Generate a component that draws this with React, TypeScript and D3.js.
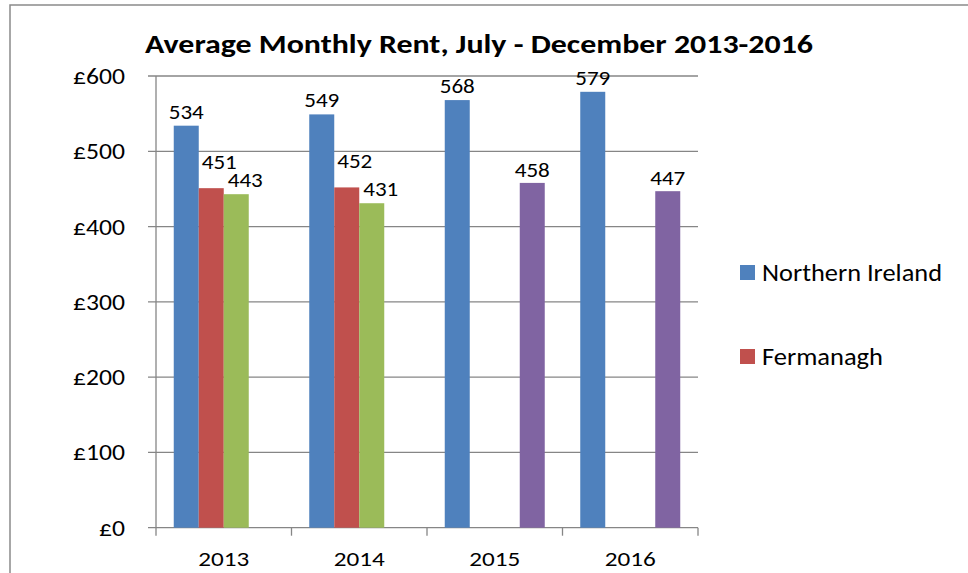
import React from "react";
import * as d3 from "d3";

const categories = ["2013", "2014", "2015", "2016"];
const seriesNames = ["Northern Ireland", "Fermanagh", "Series3", "Series4"];
const northernIreland: (number | null)[] = [534, 549, 568, 579];
const fermanagh: (number | null)[] = [451, 452, null, null];
const series3: (number | null)[] = [443, 431, null, null];
const series4: (number | null)[] = [null, null, 458, 447];
const yTicks = [0, 100, 200, 300, 400, 500, 600];
const legendNames = ["Northern Ireland", "Fermanagh"];

const colors = ["#4F81BD", "#C0504D", "#9BBB59", "#8064A2"];
// label placement styling per series (dx shift, gap above bar)
const labelStyle = [
  { dx: 0, gap: 7 },
  { dx: 8, gap: 19 },
  { dx: 9, gap: 7 },
  { dx: 0, gap: 6 },
];

const FONT = "Carlito, Calibri, Lato, 'Noto Sans', sans-serif";

export default function App() {
  const W = 968;
  const H = 573;
  const left = 156;
  const right = 698;
  const top = 76;
  const bottom = 527.7;
  const allSeries = [northernIreland, fermanagh, series3, series4];

  const x = d3.scaleBand<string>().domain(categories).range([left, right]).paddingInner(0).paddingOuter(0);
  const inner = d3
    .scaleBand<string>()
    .domain(seriesNames)
    .range([0, x.bandwidth()])
    .paddingInner(0)
    .paddingOuter(0.71);
  const y = d3.scaleLinear().domain([0, 600]).range([bottom, top]);

  const grid = "#868686";

  return (
    <svg
      width={W}
      height={H}
      style={{ position: "absolute", left: 0, top: 0, background: "#fff" }}
      fontFamily={FONT}
    >
      <rect x={10} y={5} width={980} height={600} fill="#fff" stroke="#8a8a8a" strokeWidth={1.5} />
      <text
        x={479}
        y={53}
        textAnchor="middle"
        fontWeight="bold"
        fontSize={27}
        fill="#000"
        textLength={668}
        lengthAdjust="spacingAndGlyphs"
      >
        Average Monthly Rent, July - December 2013-2016
      </text>
      {yTicks.map((t) => {
        const s = "£" + t;
        return (
          <g key={t}>
            <line x1={148} x2={right} y1={y(t)} y2={y(t)} stroke={grid} strokeWidth={1.3} />
            <text
              x={125}
              y={y(t) + 8}
              textAnchor="end"
              fontSize={21.5}
              fill="#000"
              textLength={s.length * 13}
              lengthAdjust="spacingAndGlyphs"
            >
              {s}
            </text>
          </g>
        );
      })}
      <line x1={left} x2={left} y1={top} y2={bottom + 8} stroke={grid} strokeWidth={1.3} />
      {categories.map((c) => (
        <line key={"t" + c} x1={x(c)! + x.bandwidth()} x2={x(c)! + x.bandwidth()} y1={bottom} y2={bottom + 8} stroke={grid} strokeWidth={1.3} />
      ))}
      {allSeries.map((vals, si) =>
        vals.map((v, ci) => {
          if (v === null) return null;
          const bx = x(categories[ci])! + inner(seriesNames[si])!;
          const bw = inner.bandwidth();
          const s = String(v);
          return (
            <g key={si + "-" + ci}>
              <rect x={bx} y={y(v)} width={bw} height={bottom - y(v)} fill={colors[si]} />
              <text
                x={bx + bw / 2 + labelStyle[si].dx}
                y={y(v) - labelStyle[si].gap}
                textAnchor="middle"
                fontSize={20}
                fill="#000"
                textLength={s.length * 11.7}
                lengthAdjust="spacingAndGlyphs"
              >
                {s}
              </text>
            </g>
          );
        })
      )}
      {categories.map((c) => (
        <text
          key={"c" + c}
          x={x(c)! + x.bandwidth() / 2}
          y={566}
          textAnchor="middle"
          fontSize={21}
          fill="#000"
          textLength={51}
          lengthAdjust="spacingAndGlyphs"
        >
          {c}
        </text>
      ))}
      {legendNames.map((n, i) => (
        <g key={n} transform={`translate(740, ${265 + i * 84})`}>
          <rect x={0} y={0} width={15} height={15} fill={colors[i]} />
          <text
            x={22}
            y={16}
            fontSize={23.5}
            fill="#000"
            textLength={n.length > 10 ? 180 : 121}
            lengthAdjust="spacingAndGlyphs"
          >
            {n}
          </text>
        </g>
      ))}
    </svg>
  );
}
